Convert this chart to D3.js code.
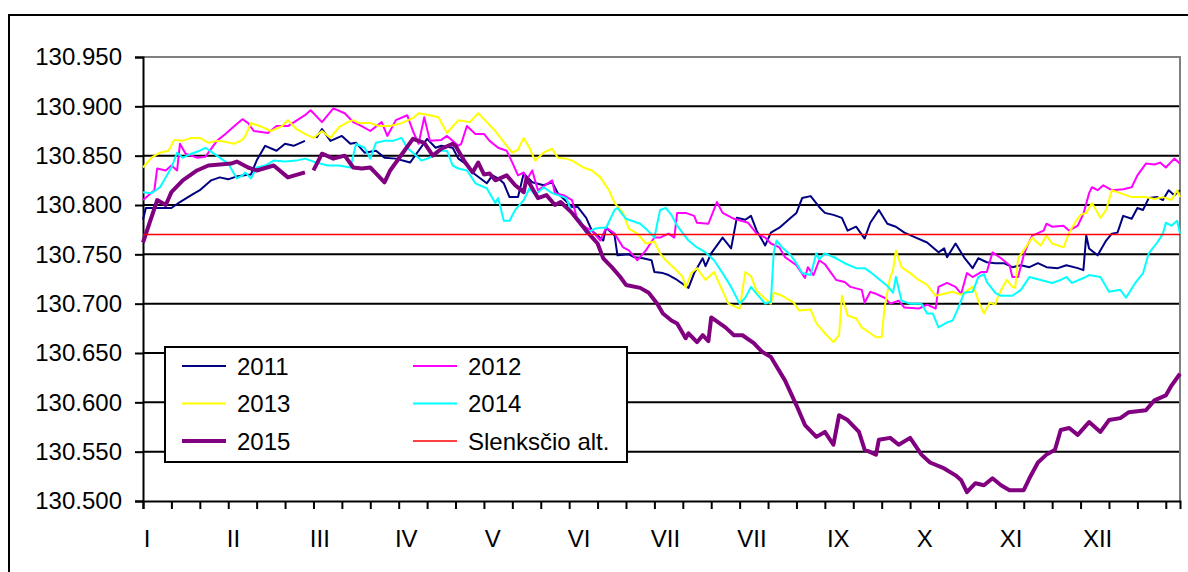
<!DOCTYPE html>
<html><head><meta charset="utf-8">
<script src="https://cdn.jsdelivr.net/npm/d3@7"></script>
<style>body{margin:0;background:#fff}svg{display:block}</style>
</head><body>
<svg id="c" width="1188" height="572"></svg>
<script>
// ---- data (day of year, value) ----
const monthLabels = ["I","II","III","IV","V","VI","VII","VII","IX","X","XI","XII"];
const yTicks = [130.5,130.55,130.6,130.65,130.7,130.75,130.8,130.85,130.9,130.95];
const threshold = 130.770;

const s2011 = [[0,130.785],[1,130.797],[6,130.797],[10,130.797],[13,130.803],[17,130.810],[20,130.815],[24,130.825],[27,130.828],[30,130.826],[33,130.829],[35,130.830],[38,130.831],[40,130.845],[43,130.860],[47,130.855],[50,130.862],[53,130.860],[57,130.865],[59,null],[61,130.868],[63,130.877],[66,130.865],[70,130.870],[73,130.862],[75,130.863],[78,130.853],[82,130.855],[85,130.848],[89,130.847],[94,130.843],[97,130.855],[100,130.867],[103,130.858],[105,130.860],[109,130.858],[111,130.847],[113,130.843],[116,130.833],[121,130.822],[123,130.830],[125,130.827],[127,130.822],[129,130.808],[132,130.808],[134,130.832],[137,130.823],[141,130.820],[144,130.823],[146,130.812],[151,130.798],[153,130.798],[156,130.787],[158,130.774],[162,130.764],[163,130.777],[166,130.769],[167,130.749],[171,130.750],[173,130.747],[176,130.746],[179,130.744],[180,130.732],[183,130.731],[185,130.729],[188,130.724],[192,130.716],[194,130.731],[197,130.746],[198,130.738],[200,130.751],[204,130.767],[207,130.756],[209,130.787],[212,130.785],[214,130.789],[216,130.774],[219,130.759],[221,130.772],[224,130.777],[228,130.787],[230,130.792],[232,130.807],[235,130.809],[238,130.798],[240,130.792],[243,130.790],[246,130.787],[248,130.774],[251,130.778],[254,130.766],[256,130.782],[259,130.795],[262,130.781],[265,130.778],[268,130.772],[272,130.767],[276,130.762],[280,130.752],[282,130.756],[283,130.747],[286,130.761],[289,130.747],[292,130.736],[294,130.746],[297,130.742],[300,130.741],[303,130.741],[306,130.737],[309,130.739],[312,130.737],[315,130.741],[318,130.737],[322,130.736],[325,130.739],[329,130.736],[331,130.734],[332,130.769],[333,130.756],[336,130.749],[339,130.764],[341,130.771],[343,130.772],[345,130.789],[348,130.786],[350,130.797],[352,130.795],[354,130.807],[357,130.808],[359,130.805],[361,130.815],[363,130.810],[365,130.815]];

const s2012 = [[0,130.805],[4,130.815],[5,130.837],[8,130.835],[10,130.840],[12,130.835],[13,130.862],[15,130.852],[19,130.848],[22,130.849],[26,130.865],[29,130.872],[33,130.882],[35,130.887],[37,130.883],[39,130.875],[44,130.873],[47,130.880],[51,130.880],[57,130.891],[59,130.896],[63,130.884],[67,130.898],[71,130.893],[74,130.884],[77,130.880],[80,130.875],[84,130.884],[86,130.870],[89,130.886],[93,130.891],[95,130.875],[97,130.862],[99,130.889],[101,130.865],[105,130.866],[107,130.870],[111,130.860],[112,130.862],[114,130.880],[117,130.872],[120,130.872],[122,130.865],[125,130.858],[128,130.855],[130,130.843],[132,130.830],[134,130.833],[135,130.825],[137,130.835],[139,130.815],[144,130.825],[145,130.812],[148,130.810],[151,130.805],[153,130.784],[156,130.777],[158,130.774],[161,130.764],[163,130.777],[166,130.771],[169,130.757],[171,130.754],[174,130.744],[177,130.754],[180,130.767],[182,130.767],[185,130.771],[187,130.767],[188,130.792],[191,130.792],[194,130.789],[195,130.782],[199,130.781],[202,130.803],[204,130.792],[208,130.786],[213,130.782],[216,130.771],[219,130.767],[221,130.761],[224,130.757],[226,130.747],[230,130.739],[233,130.726],[234,130.737],[236,130.729],[238,130.744],[240,130.740],[242,130.732],[244,130.724],[247,130.722],[249,130.717],[253,130.714],[254,130.701],[256,130.712],[258,130.710],[261,130.706],[263,130.700],[266,130.703],[268,130.696],[273,130.695],[276,130.699],[279,130.695],[280,130.717],[283,130.721],[286,130.717],[288,130.710],[290,130.731],[292,130.727],[295,130.732],[297,130.732],[299,130.752],[302,130.746],[305,130.739],[306,130.727],[308,130.727],[310,130.749],[311,130.757],[313,130.769],[317,130.774],[318,130.781],[320,130.778],[324,130.779],[326,130.774],[329,130.779],[331,130.791],[333,130.812],[334,130.818],[336,130.815],[338,130.820],[341,130.815],[345,130.816],[348,130.818],[350,130.830],[353,130.842],[356,130.841],[358,130.843],[360,130.838],[363,130.847],[365,130.842]];

const s2013 = [[0,130.838],[3,130.848],[6,130.853],[9,130.855],[11,130.866],[14,130.865],[17,130.868],[20,130.868],[23,130.863],[26,130.865],[29,130.864],[32,130.862],[35,130.866],[36,130.870],[38,130.883],[42,130.879],[45,130.875],[49,130.880],[51,130.886],[54,130.877],[57,130.872],[60,130.868],[63,130.875],[66,130.868],[69,130.879],[72,130.884],[74,130.886],[76,130.883],[80,130.883],[83,130.880],[87,130.880],[91,130.883],[95,130.888],[97,130.893],[101,130.891],[104,130.889],[107,130.873],[111,130.886],[115,130.884],[118,130.893],[121,130.884],[124,130.875],[128,130.860],[130,130.853],[132,130.856],[134,130.868],[136,130.858],[138,130.845],[141,130.853],[144,130.857],[146,130.848],[149,130.847],[151,130.845],[155,130.838],[158,130.835],[161,130.828],[164,130.815],[166,130.802],[169,130.792],[171,130.776],[174,130.771],[177,130.761],[180,130.763],[182,130.751],[184,130.744],[187,130.736],[190,130.727],[191,130.716],[193,130.731],[195,130.736],[198,130.724],[201,130.732],[204,130.713],[206,130.700],[210,130.695],[212,130.732],[214,130.728],[216,130.713],[219,130.705],[221,130.700],[222,130.711],[225,130.708],[229,130.701],[231,130.693],[235,130.694],[237,130.680],[240,130.670],[243,130.661],[245,130.668],[246,130.708],[248,130.688],[251,130.685],[253,130.676],[256,130.670],[258,130.666],[260,130.666],[261,130.696],[263,130.727],[264,130.734],[265,130.754],[267,130.737],[270,130.731],[273,130.724],[276,130.719],[279,130.708],[282,130.710],[285,130.712],[288,130.709],[290,130.713],[292,130.717],[293,130.712],[294,130.703],[296,130.690],[298,130.701],[300,130.699],[301,130.708],[304,130.724],[306,130.717],[307,130.716],[308,130.746],[310,130.754],[313,130.767],[314,130.764],[316,130.759],[318,130.769],[320,130.761],[324,130.757],[326,130.772],[328,130.782],[330,130.790],[332,130.792],[334,130.802],[337,130.787],[339,130.795],[341,130.815],[344,130.812],[348,130.808],[351,130.808],[353,130.808],[356,130.806],[359,130.808],[362,130.805],[364,130.815],[365,130.808]];

const s2014 = [[0,130.813],[3,130.812],[6,130.818],[10,130.838],[12,130.853],[14,130.848],[17,130.852],[20,130.855],[22,130.858],[25,130.852],[27,130.848],[30,130.842],[32,130.832],[33,130.827],[35,130.830],[36,130.833],[38,130.827],[40,130.838],[43,130.840],[46,130.845],[50,130.844],[54,130.845],[57,130.847],[61,130.843],[65,130.840],[69,130.840],[73,130.838],[75,130.862],[78,130.858],[80,130.847],[82,130.863],[85,130.865],[88,130.865],[91,130.868],[93,130.858],[95,130.853],[98,130.845],[101,130.848],[104,130.855],[107,130.855],[109,130.840],[111,130.837],[114,130.835],[117,130.822],[121,130.817],[124,130.802],[125,130.807],[127,130.784],[129,130.784],[131,130.795],[134,130.805],[136,130.817],[138,130.810],[141,130.818],[144,130.812],[148,130.808],[149,130.807],[151,130.792],[154,130.784],[156,130.771],[159,130.776],[161,130.777],[163,130.777],[166,130.795],[167,130.797],[170,130.786],[173,130.783],[175,130.781],[177,130.776],[180,130.767],[182,130.795],[184,130.797],[186,130.790],[188,130.779],[192,130.764],[195,130.757],[198,130.752],[201,130.744],[204,130.731],[207,130.717],[210,130.700],[212,130.706],[214,130.717],[216,130.710],[219,130.700],[221,130.702],[222,130.752],[223,130.764],[225,130.757],[228,130.749],[230,130.741],[232,130.731],[235,130.729],[237,130.751],[238,130.745],[240,130.751],[244,130.746],[247,130.741],[251,130.736],[254,130.736],[256,130.732],[259,130.725],[262,130.718],[264,130.711],[265,130.727],[267,130.703],[270,130.700],[274,130.700],[276,130.690],[278,130.690],[280,130.676],[283,130.681],[285,130.683],[287,130.696],[289,130.711],[292,130.712],[294,130.727],[296,130.730],[297,130.722],[300,130.711],[302,130.708],[306,130.708],[309,130.714],[312,130.727],[316,130.724],[320,130.721],[323,130.724],[325,130.727],[327,130.721],[331,130.726],[333,130.729],[337,130.727],[340,130.712],[344,130.714],[346,130.706],[349,130.720],[352,130.731],[354,130.751],[357,130.762],[359,130.771],[360,130.782],[362,130.779],[364,130.784],[365,130.771]];

const s2015 = [[0,130.762],[5,130.805],[8,130.800],[10,130.813],[14,130.825],[19,130.835],[23,130.840],[31,130.842],[33,130.844],[37,130.838],[40,130.835],[46,130.840],[51,130.828],[57,130.833],[58,null],[60,130.835],[63,130.852],[67,130.847],[71,130.850],[74,130.838],[77,130.837],[80,130.838],[82,130.832],[85,130.823],[87,130.835],[92,130.855],[95,130.867],[99,130.863],[102,130.850],[105,130.857],[109,130.862],[110,130.860],[113,130.845],[116,130.833],[118,130.843],[120,130.831],[122,130.832],[124,130.825],[128,130.830],[131,130.820],[134,130.813],[135,130.827],[139,130.807],[142,130.810],[145,130.800],[147,130.803],[151,130.792],[156,130.774],[160,130.761],[162,130.746],[165,130.737],[168,130.727],[170,130.719],[175,130.716],[178,130.711],[181,130.700],[183,130.690],[186,130.683],[188,130.680],[191,130.665],[192,130.670],[195,130.661],[197,130.668],[199,130.662],[200,130.686],[205,130.676],[208,130.668],[211,130.668],[215,130.660],[218,130.651],[221,130.646],[226,130.622],[230,130.597],[233,130.577],[237,130.565],[240,130.570],[243,130.557],[245,130.587],[248,130.582],[252,130.570],[254,130.552],[258,130.547],[259,130.562],[263,130.564],[266,130.557],[270,130.564],[274,130.547],[277,130.539],[282,130.533],[286,130.526],[288,130.521],[290,130.509],[293,130.518],[296,130.516],[299,130.523],[302,130.516],[305,130.511],[310,130.511],[312,130.523],[315,130.539],[318,130.547],[321,130.552],[323,130.572],[326,130.574],[329,130.567],[333,130.580],[337,130.570],[340,130.582],[344,130.584],[347,130.590],[353,130.592],[356,130.602],[360,130.607],[362,130.617],[365,130.629]];

const series = [
  {name:"2011", data:s2011, color:"#000080", w:2},
  {name:"2012", data:s2012, color:"#ff00ff", w:2},
  {name:"2013", data:s2013, color:"#ffff00", w:2},
  {name:"2014", data:s2014, color:"#00ffff", w:2},
  {name:"2015", data:s2015, color:"#800080", w:4},
];

// ---- drawing ----
const svg = d3.select("#c");
const FONT = "'Liberation Sans', Arial, sans-serif";
const FS = 24;
const x = d3.scaleLinear().domain([0,365]).range([143,1180]);
const y = d3.scaleLinear().domain([130.5,130.95]).range([501,57]);

// outer frame
svg.append("rect").attr("x",9).attr("y",15).attr("width",1220).attr("height",620)
  .attr("fill","none").attr("stroke","#000").attr("stroke-width",2);

// gridlines
svg.append("g").selectAll("line").data(yTicks.slice(1,-1)).join("line")
  .attr("x1",x(0)).attr("x2",x(365)).attr("y1",d=>y(d)).attr("y2",d=>y(d))
  .attr("stroke","#000").attr("stroke-width",2);

// plot border (gray)
svg.append("path").attr("d",`M${x(0)},${y(130.95)}H${x(365)}V${y(130.5)}`)
  .attr("fill","none").attr("stroke","#808080").attr("stroke-width",2);

// axes
const yAxis = svg.append("g").attr("transform",`translate(${x(0)},0)`)
  .call(d3.axisLeft(y).tickValues(yTicks).tickSize(8).tickPadding(13).tickFormat(d3.format(".3f")));
const xAxis = svg.append("g").attr("transform",`translate(0,${y(130.5)})`)
  .call(d3.axisBottom(x).tickValues(d3.range(0,366,10)).tickSize(8).tickFormat(""));
[yAxis,xAxis].forEach(a=>{
  a.selectAll("path,line").attr("stroke","#000").attr("stroke-width",2);
  a.selectAll("text").attr("font-family",FONT).attr("font-size",FS).attr("fill","#000");
});

svg.append("g").selectAll("text").data(monthLabels).join("text")
  .attr("x",(d,i)=>x(1.4 + i*365/12)).attr("y",547)
  .attr("text-anchor","middle").attr("font-family",FONT).attr("font-size",FS).text(d=>d);

// series
const line = d3.line().defined(d=>d[1]!=null).x(d=>x(d[0])).y(d=>y(d[1]));
series.forEach(s=>{
  svg.append("path").datum(s.data).attr("d",line)
    .attr("fill","none").attr("stroke",s.color).attr("stroke-width",s.w)
    .attr("stroke-linejoin","round");
});
// threshold
svg.append("line").attr("x1",x(0)).attr("x2",x(365)).attr("y1",y(threshold)).attr("y2",y(threshold))
  .attr("stroke","#ff0000").attr("stroke-width",1.5);

// legend
const lg = svg.append("g");
lg.append("rect").attr("x",165).attr("y",347).attr("width",462).attr("height",115)
  .attr("fill","#fff").attr("stroke","#000").attr("stroke-width",2);
const legendItems = [...series, {name:"Slenksčio alt.", color:"#ff0000", w:1.5}];
legendItems.forEach((s,i)=>{
  const col = i%2, row = Math.floor(i/2);
  const lx = 182 + col*231, ly = 366 + row*37.5;
  lg.append("line").attr("x1",lx).attr("x2",lx+44).attr("y1",ly).attr("y2",ly)
    .attr("stroke",s.color).attr("stroke-width",s.w);
  lg.append("text").attr("x",lx+55).attr("y",ly).attr("dy","0.36em")
    .attr("font-family",FONT).attr("font-size",FS).text(s.name);
});
</script>
</body></html>
